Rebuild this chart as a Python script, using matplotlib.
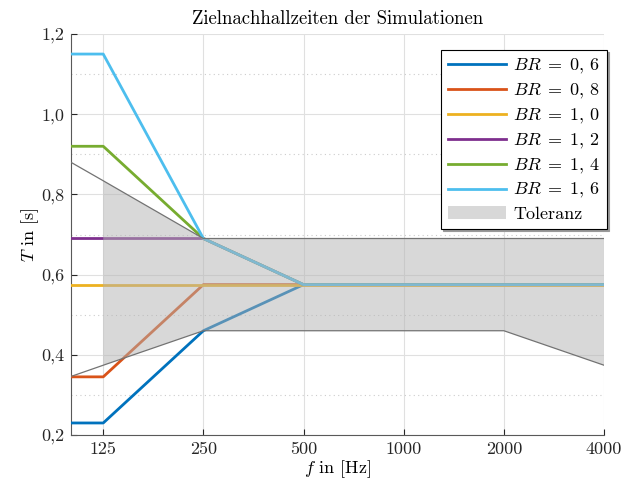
import numpy as np
import matplotlib
matplotlib.use('Agg')
import matplotlib.pyplot as plt
from matplotlib.ticker import FixedLocator, NullFormatter

plt.rcParams['font.family'] = 'serif'
plt.rcParams['font.serif'] = ['cmr10', 'DejaVu Serif']
plt.rcParams['mathtext.fontset'] = 'cm'
plt.rcParams['axes.unicode_minus'] = False

# frequencies (100 Hz point only extends the curves to the left axis edge)
freqs = [100, 125, 250, 500, 1000, 2000, 4000]
xticks = [125, 250, 500, 1000, 2000, 4000]
xtick_labels = ['125', '250', '500', '1000', '2000', '4000']
yticks = [0.2, 0.4, 0.6, 0.8, 1.0, 1.2]
ytick_labels = ['0,2', '0,4', '0,6', '0,8', '1,0', '1,2']

br_labels = [r'$BR \;=\; 0,\,6$', r'$BR \;=\; 0,\,8$', r'$BR \;=\; 1,\,0$',
             r'$BR \;=\; 1,\,2$', r'$BR \;=\; 1,\,4$', r'$BR \;=\; 1,\,6$']
br_06 = [0.23, 0.23, 0.46, 0.575, 0.575, 0.575, 0.575]
br_08 = [0.345, 0.345, 0.575, 0.575, 0.575, 0.575, 0.575]
br_10 = [0.575, 0.575, 0.575, 0.575, 0.575, 0.575, 0.575]
br_12 = [0.69, 0.69, 0.69, 0.575, 0.575, 0.575, 0.575]
br_14 = [0.92, 0.92, 0.69, 0.575, 0.575, 0.575, 0.575]
br_16 = [1.15, 1.15, 0.69, 0.575, 0.575, 0.575, 0.575]
colors = ['#0072BD', '#D95319', '#EDB120', '#7E2F8E', '#77AC30', '#4DBEEE']

tol_upper = [0.88, 0.834, 0.69, 0.69, 0.69, 0.69, 0.69]
tol_lower = [0.346, 0.374, 0.46, 0.46, 0.46, 0.46, 0.374]

fig = plt.figure(figsize=(6.43, 4.84), dpi=100)
ax = fig.add_axes([71/643, 49/484, 533/643, 401/484])

for vals, c, lab in zip([br_06, br_08, br_10, br_12, br_14, br_16], colors, br_labels):
    ax.plot(freqs, vals, color=c, lw=2.0, label=lab, zorder=3)

# tolerance band drawn on top, starting at 125 Hz
ax.fill_between(freqs[1:], tol_lower[1:], tol_upper[1:], facecolor=(0.7, 0.7, 0.7),
                alpha=0.5, edgecolor='none', label='Toleranz', zorder=4)
ax.plot(freqs, tol_upper, color='0.45', lw=0.9, zorder=4)
ax.plot(freqs, tol_lower, color='0.45', lw=0.9, zorder=4)

ax.set_xscale('log', base=2)
ax.set_xlim(100, 4000)
ax.set_ylim(0.2, 1.2)
ax.set_xticks(xticks)
ax.set_xticklabels(xtick_labels)
ax.xaxis.set_minor_locator(FixedLocator([]))
ax.xaxis.set_minor_formatter(NullFormatter())
ax.set_yticks(yticks)
ax.set_yticklabels(ytick_labels)
ax.yaxis.set_minor_locator(FixedLocator([0.3, 0.5, 0.7, 0.9, 1.1]))

ax.grid(True, which='major', color='0.88', lw=0.8, zorder=0)
ax.grid(True, which='minor', axis='y', color='0.8', lw=0.8, ls=(0, (1, 3)), zorder=0)
ax.set_axisbelow(True)

for s in ['top', 'right']:
    ax.spines[s].set_visible(False)
for s in ['left', 'bottom']:
    ax.spines[s].set_color('0.35')
ax.tick_params(which='both', direction='in', labelsize=13, colors='0.15', length=4, pad=5)
ax.tick_params(which='minor', length=0)

ax.set_xlabel('$f$ in [Hz]', fontsize=13, labelpad=1)
ax.set_ylabel('$T$ in [s]', fontsize=13, labelpad=0)
ax.set_title('Zielnachhallzeiten der Simulationen', fontsize=13.5, pad=7)

leg = ax.legend(loc='upper right', bbox_to_anchor=(1.006, 0.96), fontsize=13,
                fancybox=False, framealpha=1, edgecolor='black', handlelength=3.2,
                handletextpad=0.4, borderaxespad=0, labelspacing=0.32, borderpad=0.4,
                shadow={'color': '0.6', 'alpha': 1, 'ox': 1.5, 'oy': -1.5})
leg.get_frame().set_linewidth(0.8)

fig.savefig('out.png', dpi=100)
